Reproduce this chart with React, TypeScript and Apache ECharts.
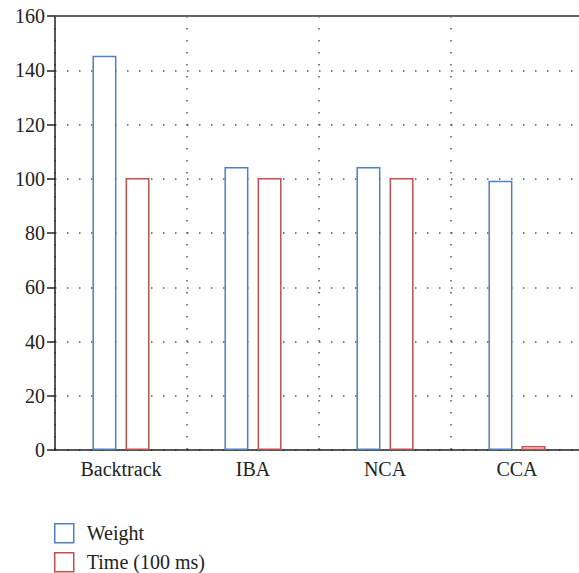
import React, { useEffect, useRef } from "react";
import * as echarts from "echarts";

const categories = ["Backtrack", "IBA", "NCA", "CCA"];
const weightValues = [145.3, 104.3, 104.3, 99.3];
const timeValues = [100.3, 100.3, 100.3, 1.5];
const seriesNames = ["Weight", "Time (100 ms)"];
const yTicks = { min: 0, max: 160, interval: 20 };

const FONT = "'Liberation Serif', 'Times New Roman', serif";

const legendBase = {
  orient: "vertical",
  left: 54,
  padding: 0,
  itemWidth: 19,
  itemHeight: 19,
  icon: "rect",
  itemStyle: { borderWidth: 1.5 },
  textStyle: { fontFamily: FONT, fontSize: 20, color: "#222", padding: [0, 0, 0, 8] },
};

export default function App() {
  const ref = useRef<HTMLDivElement>(null);
  useEffect(() => {
    const chart = echarts.init(ref.current!, null, { renderer: "svg" });
    chart.setOption({
      animation: false,
      backgroundColor: "#ffffff",
      grid: { left: 55, right: 0, top: 16, bottom: 123 },
      legend: [
        { ...legendBase, top: 523, data: [seriesNames[0]] },
        { ...legendBase, top: 552, data: [seriesNames[1]] },
      ],
      xAxis: [
        {
          type: "category",
          data: categories,
          axisLine: { lineStyle: { color: "#222", width: 1.5 } },
          axisTick: { show: false },
          axisLabel: { fontFamily: FONT, fontSize: 20, color: "#222", margin: 9 },
          splitLine: {
            show: true,
            lineStyle: { color: "#555", type: [1.5, 10.5], width: 1.5 },
          },
        },
        {
          type: "category",
          data: categories,
          position: "top",
          axisLine: { lineStyle: { color: "#666", width: 2 } },
          axisTick: { show: false },
          axisLabel: { show: false },
          splitLine: { show: false },
        },
      ],
      yAxis: {
        type: "value",
        min: yTicks.min,
        max: yTicks.max,
        interval: yTicks.interval,
        axisLine: { show: true, lineStyle: { color: "#222", width: 1.5 } },
        axisTick: { show: true, length: 8, lineStyle: { color: "#222", width: 1.5 } },
        axisLabel: { fontFamily: FONT, fontSize: 20, color: "#222", margin: 10 },
        splitLine: {
          show: true,
          lineStyle: { color: "#555", type: [1.5, 10.5], width: 1.5 },
        },
      },
      series: [
        {
          name: seriesNames[0],
          type: "bar",
          data: weightValues,
          barWidth: 24,
          barGap: "38%",
          itemStyle: { color: "#ffffff", borderColor: "#4f81bd", borderWidth: 1.5 },
        },
        {
          name: seriesNames[1],
          type: "bar",
          data: timeValues,
          barWidth: 24,
          itemStyle: { color: "#ffffff", borderColor: "#c0504d", borderWidth: 1.5 },
        },
      ],
    });
    return () => chart.dispose();
  }, []);
  return (
    <div style={{ position: "fixed", left: 0, top: 0, width: 579, height: 573, overflow: "hidden" }}>
      <div ref={ref} style={{ width: 583, height: 573 }} />
    </div>
  );
}
